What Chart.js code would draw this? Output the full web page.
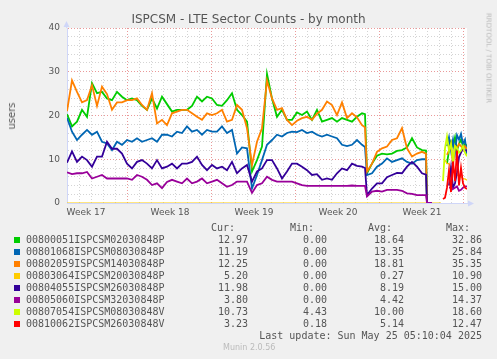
<!DOCTYPE html>
<html><head><meta charset="utf-8">
<script src="https://cdn.jsdelivr.net/npm/chart.js@4.4.1/dist/chart.umd.min.js"></script>
<style>
html,body{margin:0;padding:0;background:#F0F0F0;}
#wrap{position:relative;width:497px;height:359px;overflow:hidden;background:#F0F0F0;}
canvas{position:absolute;left:0;top:0;}
.t{position:absolute;white-space:pre;color:#555;}
.mono{font-family:'DejaVu Sans Mono',monospace;font-size:10px;line-height:12px;}
.sw{position:absolute;width:6px;height:6px;}
</style></head>
<body><div id="wrap"><canvas id="c" width="497" height="359"></canvas></div>
<script>
// ---- data (hours since start of graph) ----
const hours = [0,10,20,30,40,50,60,70,80,90,100,110,120,130,140,150,160,170,180,190,
200,210,220,230,240,250,260,270,280,290,300,310,320,330,340,350,360,370,380,390,
400,410,420,430,440,450,460,470,480,490,500,510,520,530,540,550,560,570,580,590,
596,600,610,620,630,640,650,660,670,680,690,700,710,718,720,730,740,744,748,
752,756,760,764,768,772,776,780,784,788,792,796,800];
const lateHours = [752,756,760,764,768,772,776,780,784,788,792,796,800];

const s00800051 = [20.3,17.5,18.6,21.3,19.7,27.4,25.1,25.4,23.9,23.5,25.4,24.3,23.5,23.9,23.5,22.2,21.3,23.9,21.6,24.3,22.6,
20.9,21.3,21.3,21.3,22.2,24.3,23.2,24.3,23.9,22.4,22.2,23.5,25.1,21.3,
20.1,18.6,7.2,9.8,12.9,29.5,23.9,19.7,21.3,19.0,19.0,20.7,
20.1,20.9,19.0,21.3,18.6,19.0,19.4,18.6,19.4,19.0,18.6,19.7,20.5,
20.3,
6.8,9.0,10.8,11.3,11.1,11.3,11.9,12.1,12.7,14.8,12.7,12.1,
12.0,0,null,null,null,null,
null,null,9.0,12.0,14.0,13.0,15.0,12.0,13.5,14.5,13.0,13.5,13.0];
const s00801068 = [19.5,16.3,14.4,15.6,16.7,15.6,16.3,14.0,13.6,12.1,14.0,13.3,14.4,14.0,14.8,14.0,14.4,14.8,14.0,15.6,15.6,
15.2,16.3,16.0,17.5,16.3,16.7,15.6,16.7,16.3,16.3,17.5,16.0,16.7,11.3,
12.7,12.5,3.3,6.4,9.8,13.3,14.4,15.6,15.2,16.0,16.3,16.2,
16.7,16.0,16.3,15.6,15.2,15.6,15.2,14.8,13.3,13.0,13.3,14.4,13.3,
12.8,
6.4,6.8,8.3,9.0,10.2,9.4,9.8,10.2,9.4,9.0,9.8,10.0,
10.0,0,null,null,null,null,
null,null,13.0,15.0,12.0,14.5,11.5,15.5,14.5,15.8,13.5,14.5,11.2];
const s00802059 = [21.0,28.0,25.4,23.0,23.5,26.9,22.2,26.6,24.9,21.3,23.0,23.0,23.5,23.5,23.9,22.4,21.3,25.1,18.2,19.0,17.8,
20.5,20.9,21.3,21.3,20.5,19.7,19.0,20.5,20.1,20.5,21.3,18.6,19.0,22.4,
21.3,17.1,8.7,14.0,17.1,28.0,23.9,21.3,21.7,19.0,17.8,18.8,
19.4,19.7,19.0,20.4,21.3,23.2,22.4,20.1,23.0,19.4,20.5,19.6,17.8,
17.3,
7.2,9.0,11.7,12.5,12.9,14.4,14.8,17.1,12.5,10.6,11.3,11.7,
11.3,0,null,null,null,null,
null,null,11.0,12.0,13.5,8.5,13.0,12.5,13.5,13.0,12.5,13.0,12.25];
const s00803064 = [0,0,0,0,0,0,0,0,0,0,0,0,0,0,0,0,0,0,0,0,0,
0,0,0,0,0,0,0,0,0,0,0,0,0,0,
0,0,0,0,0,0,0,0,0,0,0,0,
0,0,0,0,0,0,0,0,0,0,0,0,0,
0,
0,0,0,0,0,0,0,0,0,0,0,0,
0,0,0,0,0,0,
null,9.8,9.0,9.0,8.0,7.0,7.0,6.5,6.0,6.0,5.5,5.5,5.2];
const s00804055 = [9.2,11.8,9.4,10.6,9.8,8.3,10.6,10.6,14.0,12.4,12.4,11.3,9.0,7.9,9.4,9.8,9.0,7.9,9.8,7.9,8.3,
9.0,7.9,9.0,9.0,9.4,10.6,8.7,7.5,8.7,7.9,8.3,7.5,9.4,6.8,
7.9,8.7,4.9,7.2,7.9,9.8,9.8,7.9,5.6,7.2,9.0,9.0,
8.3,7.5,6.4,6.6,5.3,5.6,5.3,6.8,7.9,7.5,9.0,8.5,8.3,
8.0,
1.8,3.3,4.5,4.5,5.9,6.4,6.9,6.8,8.3,9.4,8.3,6.8,
6.5,0,null,null,null,null,
null,null,null,4.0,8.0,3.5,4.5,7.0,10.5,11.5,12.5,12.0,12.0];
const s00805060 = [7.0,6.6,6.8,6.8,7.1,5.6,6.0,6.4,5.6,5.6,5.6,5.6,5.6,5.3,6.4,6.0,5.3,4.1,4.5,3.4,4.8,
5.3,4.9,4.5,5.6,4.5,4.9,5.6,4.5,4.9,5.3,4.5,3.7,4.1,4.9,
4.9,4.9,2.3,4.1,4.5,6.0,5.3,4.9,4.9,4.9,4.9,4.5,
4.1,3.9,3.9,3.9,3.9,3.9,3.9,3.9,3.9,3.9,4.0,3.9,3.9,
3.9,
1.5,2.6,2.8,2.6,3.0,3.0,3.0,2.8,2.2,2.1,1.8,1.8,
1.8,0,0,null,null,null,
null,null,null,3.5,3.5,3.2,3.5,3.8,2.8,3.0,3.5,3.8,3.8];
const s00807054 = [5.0,12.5,15.2,12.0,13.5,9.5,13.0,12.5,11.5,12.0,13.0,11.5,10.7];
const s00810062 = [0.9,1.2,3.5,7.5,2.5,9.5,5.0,12.0,4.0,8.0,4.5,3.5,3.2];

const names = ['00800051ISPCSM02030848P','00801068ISPCSM08030848P','00802059ISPCSM14030848P','00803064ISPCSM20030848P',
'00804055ISPCSM26030848P','00805060ISPCSM32030848P','00807054ISPCSM08030848V','00810062ISPCSM26030848V'];
const colors = ['#00CC00','#0066B3','#FF8000','#FFCC00','#330099','#990099','#CCFF00','#FF0000'];
const curVals = ['12.97','11.19','12.25','5.20','11.98','3.80','10.73','3.23'];
const minVals = ['0.00','0.00','0.00','0.00','0.00','0.00','4.43','0.18'];
const avgVals = ['18.64','13.35','18.81','0.27','8.19','4.42','10.00','5.14'];
const maxVals = ['32.86','25.84','35.35','10.90','15.00','14.37','18.60','12.47'];

const weekLabels = ['Week 17','Week 18','Week 19','Week 20','Week 21'];
const weekLabelHours = [38,206,374,542,710];
const majorHours = [120,288,456,624,792];
const dayHours = [0,24,48,72,96,120,144,168,192,216,240,264,288,312,336,360,384,408,432,456,480,504,528,552,576,600,624,648,672,696,720,744,768,792];
const yTickValues = [0,2,4,6,8,10,12,14,16,18,20,22,24,26,28,30,32,34,36,38,40];
const yLabelValues = [0,10,20,30,40];

// ---- build datasets ----
const seriesVals = [s00800051,s00801068,s00802059,s00803064,s00804055,s00805060,s00807054,s00810062];
const datasets = seriesVals.map((vals, i) => {
  const xs = vals.length === lateHours.length ? lateHours : hours;
  return {
    label: names[i],
    data: vals.map((v, k) => ({x: xs[k], y: v})),
    borderColor: colors[i],
    backgroundColor: colors[i],
    borderWidth: i === 3 ? 1.2 : 1.8,
    pointRadius: 0,
    tension: 0,
    spanGaps: false,
    order: 7 - i
  };
});

const AXIS = '#CFD6F8';
const bgPlugin = {
  id: 'bg',
  beforeDraw(chart) {
    const {ctx, chartArea: a} = chart;
    ctx.save(); ctx.fillStyle = '#FFFFFF';
    ctx.fillRect(a.left, a.top, a.right - a.left, a.bottom - a.top);
    ctx.restore();
  },
  afterDraw(chart) {
    const {ctx, chartArea: a} = chart;
    ctx.save();
    ctx.strokeStyle = AXIS; ctx.fillStyle = AXIS; ctx.lineWidth = 1;
    ctx.beginPath(); ctx.moveTo(a.left - 0.5, a.top); ctx.lineTo(a.left - 0.5, a.top - 3); ctx.stroke();
    ctx.beginPath(); ctx.moveTo(a.left - 3.5, a.top - 1); ctx.lineTo(a.left + 2.5, a.top - 1); ctx.lineTo(a.left - 0.5, a.top - 7); ctx.closePath(); ctx.fill();
    ctx.beginPath(); ctx.moveTo(a.right, a.bottom + 0.5); ctx.lineTo(a.right + 2, a.bottom + 0.5); ctx.stroke();
    ctx.beginPath(); ctx.moveTo(a.right + 1, a.bottom - 2.5); ctx.lineTo(a.right + 1, a.bottom + 3.5); ctx.lineTo(a.right + 7, a.bottom + 0.5); ctx.closePath(); ctx.fill();
    ctx.restore();
  }
};

const GRID_MINOR = 'rgba(170,170,170,0.5)';
const GRID_MAJOR = 'rgba(225,110,110,0.7)';

new Chart(document.getElementById('c'), {
  type: 'line',
  data: {datasets},
  plugins: [bgPlugin],
  options: {
    responsive: false, animation: false, devicePixelRatio: 1,
    layout: {padding: {left: 0, right: 30, top: 28, bottom: 136}},
    plugins: {legend: {display: false}, tooltip: {enabled: false}, title: {display: false}},
    scales: {
      x: {
        type: 'linear', min: 0, max: 800,
        afterFit(s) { s.height = 20; },
        afterBuildTicks(s) {
          const vals = dayHours.concat(weekLabelHours).sort((a, b) => a - b);
          s.ticks = vals.map(v => ({value: v}));
        },
        ticks: {
          autoSkip: false, maxRotation: 0, padding: 4, color: '#555',
          font: {family: 'DejaVu Sans', size: 9},
          callback(v) { const k = weekLabelHours.indexOf(v); return k >= 0 ? weekLabels[k] : ''; }
        },
        grid: {
          drawTicks: false, lineWidth: 1,
          color(ctx) {
            const v = ctx.tick ? ctx.tick.value : null;
            if (weekLabelHours.indexOf(v) >= 0) return 'rgba(0,0,0,0)';
            if (majorHours.indexOf(v) >= 0) return GRID_MAJOR;
            return GRID_MINOR;
          }
        },
        border: {display: true, color: AXIS, width: 1, dash: [1, 2]}
      },
      y: {
        type: 'linear', min: 0, max: 40,
        afterFit(s) { s.width = 67; },
        afterBuildTicks(s) { s.ticks = yTickValues.map(v => ({value: v})); },
        ticks: {
          autoSkip: false, padding: 7, color: '#555',
          font: {family: 'DejaVu Sans', size: 9},
          callback(v) { return yLabelValues.indexOf(Math.round(v)) >= 0 ? String(Math.round(v)) : ''; }
        },
        grid: {
          drawTicks: false, lineWidth: 1,
          color(ctx) {
            const v = ctx.tick ? Math.round(ctx.tick.value) : 0;
            return yLabelValues.indexOf(v) >= 0 ? GRID_MAJOR : GRID_MINOR;
          }
        },
        border: {display: true, color: AXIS, width: 1, dash: [1, 2]}
      }
    }
  }
});

// ---- text: title, axis label, legend ----
const wrap = document.getElementById('wrap');
function addText(txt, css, cls) {
  const d = document.createElement('div');
  d.className = 't ' + (cls || '');
  d.textContent = txt;
  Object.assign(d.style, css);
  wrap.appendChild(d);
  return d;
}
addText('ISPCSM - LTE Sector Counts - by month', {left: '0px', width: '497px', textAlign: 'center', top: '13px',
  fontFamily: 'DejaVu Sans', fontSize: '12px', lineHeight: '12px', color: '#555'});
addText('users', {left: '12px', top: '116px', fontFamily: 'DejaVu Sans', fontSize: '10px', lineHeight: '10px',
  transform: 'translate(-50%,-50%) rotate(-90deg)', color: '#555'});
addText('RRDTOOL / TOBI OETIKER', {left: '488px', top: '58px', fontFamily: 'DejaVu Sans', fontSize: '7px', lineHeight: '7px',
  transform: 'translate(-50%,-50%) rotate(90deg)', color: '#BBBBBB'});

const headers = ['Cur:', 'Min:', 'Avg:', 'Max:'];
const headerRight = [235, 314, 392, 470];
const colRight = [248, 327, 404, 482];
headers.forEach((h, j) => addText(h, {right: (497 - headerRight[j]) + 'px', top: '222px', textAlign: 'right'}, 'mono'));
const cols = [curVals, minVals, avgVals, maxVals];
names.forEach((n, i) => {
  const top = 234 + 12 * i;
  const sw = document.createElement('div');
  sw.className = 'sw';
  Object.assign(sw.style, {left: '14px', top: (top + 3) + 'px', background: colors[i]});
  wrap.appendChild(sw);
  addText(n, {left: '26px', top: top + 'px'}, 'mono');
  cols.forEach((c, j) => addText(c[i], {right: (497 - colRight[j]) + 'px', top: top + 'px', textAlign: 'right'}, 'mono'));
});
addText('Last update: Sun May 25 05:10:04 2025', {right: (497 - 482) + 'px', top: '330px', textAlign: 'right'}, 'mono');
addText('Munin 2.0.56', {left: '223px', top: '344px', fontFamily: 'DejaVu Sans', fontSize: '8px', lineHeight: '8px', color: '#BBBBBB'});
</script>
</body></html>
